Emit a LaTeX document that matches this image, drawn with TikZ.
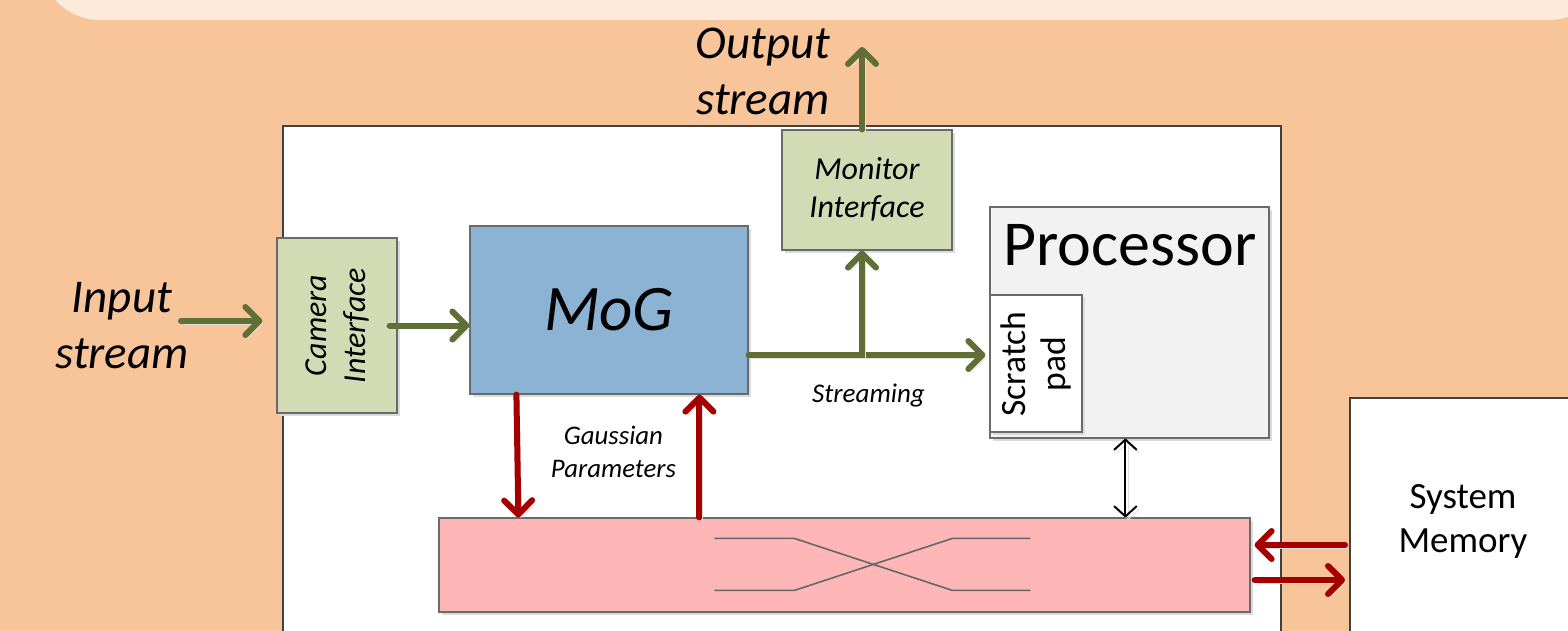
\documentclass[tikz,border=0pt]{standalone}
\usepackage{fontspec}
\setmainfont{Carlito}
\usetikzlibrary{arrows.meta,shadows,calc}

\definecolor{bgpeach}{HTML}{F8C49A}
\definecolor{bannercream}{HTML}{FDEADB}
\definecolor{ifgreen}{HTML}{D3DBB5}
\definecolor{mogblue}{HTML}{8DB3D4}
\definecolor{procgray}{HTML}{F2F2F2}
\definecolor{buspink}{HTML}{FFB6B7}
\definecolor{flowolive}{HTML}{5F6F35}
\definecolor{memred}{HTML}{A50000}
\definecolor{boxline}{HTML}{6A6A6A}
\definecolor{frameline}{HTML}{404040}
\definecolor{wireline}{HTML}{666666}

\tikzset{
  box/.style={draw=boxline, line width=0.6pt, inner sep=0pt,
    drop shadow={shadow xshift=1.5pt, shadow yshift=-1.5pt, fill=black!14, opacity=1}},
  arrshadow/.style={preaction={draw=black!12,
    transform canvas={shift={(1.5pt,-1.5pt)}}}},
  flow/.style={draw=flowolive, line width=3pt, line cap=round,
    -{Straight Barb[round,length=7pt,width=14pt]}, arrshadow},
  memflow/.style={draw=memred, line width=3pt, line cap=round,
    -{Straight Barb[round,length=7pt,width=14pt]}, arrshadow},
  ctrl/.style={draw=black, line width=1pt,
    {Straight Barb[round,length=5pt,width=11pt]}-{Straight Barb[round,length=5pt,width=11pt]},
    arrshadow},
  lbl/.style={align=center, inner sep=0pt},
}

\begin{document}
\begin{tikzpicture}[x=0.5pt,y=-0.5pt]
\useasboundingbox (0,0) rectangle (1568,631);
\clip (0,0) rectangle (1568,631);

% background and title banner
\fill[bgpeach] (0,0) rectangle (1568,631);
\fill[bannercream, rounded corners=30pt] (40,-120) rectangle (1609,20);

% chip frame
\node[draw=frameline, fill=white, line width=1pt, minimum width=499pt,
      minimum height=262pt, inner sep=0pt] (chip) at (782,388) {};

% system memory
\node[draw=frameline, fill=white, line width=1pt, minimum width=125pt,
      minimum height=131pt, inner sep=0pt] (mem) at (1475,529) {};
\node[lbl, font=\fontsize{18.5}{22}\selectfont] (memtxt) at (1463,521) {System\\Memory};

% blocks
\node[box, fill=ifgreen, minimum width=60pt, minimum height=87.5pt] (cam) at (337,325.5) {};
\node[lbl, rotate=90, font=\fontsize{16}{19.5}\selectfont\itshape] (camtxt) at (337.5,325.5) {Camera\\Interface};

\node[box, fill=mogblue, minimum width=139pt, minimum height=84pt,
      font=\fontsize{32.5}{36}\selectfont\itshape] (mog) at (609,310) {MoG};

\node[box, fill=ifgreen, minimum width=85pt, minimum height=60pt] (mon) at (867,190) {};
\node[lbl, font=\fontsize{16}{19}\selectfont\itshape] (montxt) at (867,189) {Monitor\\Interface};

\node[box, fill=procgray, minimum width=139.5pt, minimum height=115.5pt] (proc) at (1129.5,322.5) {};
\node[lbl, font=\fontsize{32}{36}\selectfont] (proctxt) at (1130,245) {Processor};

\node[box, fill=white, minimum width=46pt, minimum height=68.5pt] (scratch) at (1036,363.5) {};
\node[lbl, rotate=90, font=\fontsize{17.8}{20}\selectfont] (scratchtxt) at (1036,364) {Scratch\\pad};

\node[box, fill=buspink, minimum width=405.5pt, minimum height=47pt] (bus) at (844.5,565) {};

% crossbar wiring inside the interconnect
\draw[wireline, line width=0.8pt] ($(bus.north west)+(276,21)$) -- ++(80,0) -- ++(158,52) -- ++(78,0);
\draw[wireline, line width=0.8pt] ($(bus.north west)+(276,73)$) -- ++(80,0) -- ++(158,-52) -- ++(78,0);

% free labels
\node[lbl, font=\fontsize{23.5}{28}\selectfont\itshape] (intxt) at (122,326) {Input\\stream};
\node[lbl, font=\fontsize{23.5}{28}\selectfont\itshape] (outtxt) at (763,71) {Output\\stream};
\node[lbl, font=\fontsize{13.4}{16.5}\selectfont\itshape] (gausstxt) at (613.5,452) {Gaussian\\Parameters};
\node[lbl, font=\fontsize{13.5}{16.5}\selectfont\itshape] (streamtxt) at (868.5,396) {Streaming};

% video stream path
\coordinate (instart) at (181,321);
\coordinate (split) at (862,355);
\coordinate (outend) at (862,47);
\draw[flow, shorten >=7pt] (instart) -- (cam.west |- instart);
\draw[flow] ([xshift=-4pt]cam.east) -- (mog.west |- cam.east);
\draw[flow, shorten >=2pt] (mog.east |- split) -- (scratch.west |- split);
\draw[flow] (split) -- (mon.south -| split);
\draw[flow] (mon.north -| split) -- (outend);

% model parameters to and from the interconnect
\draw[memflow] ($(mog.south west)+(47,0)$) -- ($(bus.north west)+(80,0)$);
\draw[memflow] ($(bus.north west)+(261,0)$) -- ($(mog.south west)+(230,0)$);

% processor to interconnect
\draw[ctrl] ($(proc.south west)+(136,0)$) -- ($(bus.north west)+(687,0)$);

% interconnect to system memory
\draw[memflow, shorten >=2pt, shorten <=2pt] ($(mem.west)+(0,16)$) -- (bus.east |- 0,545);
\draw[memflow, shorten >=2pt, shorten <=2pt] (bus.east |- 0,580) -- (mem.west |- 0,580);
\end{tikzpicture}
\end{document}
